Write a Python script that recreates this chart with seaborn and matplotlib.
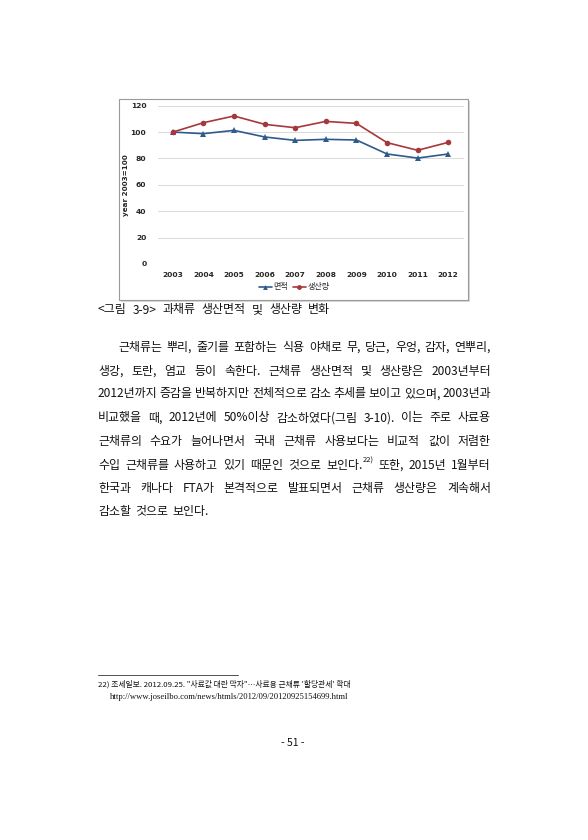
import matplotlib
matplotlib.use('Agg')
import pandas as pd
import matplotlib.pyplot as plt
import seaborn as sns
from matplotlib.patches import Rectangle
from matplotlib.lines import Line2D

# 데이터 (2003=100)
years = [2003, 2004, 2005, 2006, 2007, 2008, 2009, 2010, 2011, 2012]
area = [100, 98.8, 101.3, 96.3, 93.7, 94.5, 94.0, 83.4, 80.3, 83.4]
output = [100, 107.1, 112.2, 105.9, 103.3, 108.1, 106.6, 92.0, 86.2, 92.2]
series_names = ['면적', '생산량']
y_ticks = [0, 20, 40, 60, 80, 100, 120]
y_label = 'year 2003=100'

caption = '<그림 3-9> 과채류 생산면적 및 생산량 변화'
para_lines = [
    '근채류는 뿌리, 줄기를 포함하는 식용 야채로 무, 당근, 우엉, 감자, 연뿌리,',
    '생강, 토란, 염교 등이 속한다. 근채류 생산면적 및 생산량은 2003년부터',
    '2012년까지 증감을 반복하지만 전체적으로 감소 추세를 보이고 있으며, 2003년과',
    '비교했을 때, 2012년에 50%이상 감소하였다(그림 3-10). 이는 주로 사료용',
    '근채류의 수요가 늘어나면서 국내 근채류 사용보다는 비교적 값이 저렴한',
    '수입 근채류를 사용하고 있기 때문인 것으로 보인다.^22) 또한, 2015년 1월부터',
    '한국과 캐나다 FTA가 본격적으로 발표되면서 근채류 생산량은 계속해서',
    '감소할 것으로 보인다.',
]
footnotes = [
    '22) 조세일보. 2012.09.25. "사료값 대란 막자"…사료용 근채류 \'할당관세\' 확대',
    'http://www.joseilbo.com/news/htmls/2012/09/20120925154699.html',
]
page_no = '- 51 -'

sns.set_style('white')
plt.rcParams['font.family'] = ['Noto Sans CJK KR', 'DejaVu Sans']

W, H = 588, 840
fig = plt.figure(figsize=(5.88, 8.4), dpi=100)


def fx(px):
    return px / W


def fy(py):
    return 1 - py / H


# 차트 테두리 (그림자 포함)
fig.patches.append(Rectangle((fx(121), fy(302)), 349 / W, 201 / H, transform=fig.transFigure,
                             facecolor='#d8d8d8', edgecolor='none', zorder=-2))
fig.patches.append(Rectangle((fx(119), fy(300)), 349 / W, 201 / H, transform=fig.transFigure,
                             facecolor='white', edgecolor='#9a9a9a', linewidth=0.8, zorder=-1))

blue = '#2f5a8c'
red = '#a6383c'

ax = fig.add_axes([157.5 / W, fy(264), 306 / W, 158.3 / H])
ax.patch.set_alpha(0)
df = pd.DataFrame({'연도': years * 2,
                   '값': area + output,
                   '구분': [series_names[0]] * len(years) + [series_names[1]] * len(years)})
sns.lineplot(data=df, x='연도', y='값', hue='구분', style='구분',
             markers={'면적': '^', '생산량': 'o'}, dashes=False,
             palette={'면적': blue, '생산량': red},
             markersize=4, markeredgewidth=0, linewidth=1.2, legend=False, ax=ax)

ax.set_xlim(years[0] - 0.5, years[-1] + 0.5)
ax.set_ylim(0, 120)
ax.set_xticks(years)
ax.set_xticklabels([str(y) for y in years], fontsize=5.4, fontweight='bold', family='DejaVu Sans')
ax.set_yticks(y_ticks)
ax.set_yticklabels([str(v) for v in y_ticks], fontsize=5.4, fontweight='bold', family='DejaVu Sans')
ax.tick_params(length=0, pad=6)
ax.tick_params(axis='y', pad=8)
ax.grid(axis='y', color='#d9d9d9', linewidth=0.7)
ax.set_axisbelow(True)
for s in ax.spines.values():
    s.set_visible(False)
ax.set_xlabel('')
ax.set_ylabel(y_label, fontsize=5.2, fontweight='bold', family='DejaVu Sans', labelpad=1)

handles = [Line2D([], [], color=blue, marker='^', markersize=3.5, markeredgewidth=0, lw=1.2),
           Line2D([], [], color=red, marker='o', markersize=3.5, markeredgewidth=0, lw=1.2)]
fig.legend(handles, series_names, loc='center', bbox_to_anchor=(fx(294), fy(287)), ncol=2,
           frameon=False, fontsize=5.8, handlelength=1.6, handletextpad=0.2, columnspacing=0.6)

# 본문 텍스트
body_size = 8.6
renderer = fig.canvas.get_renderer()


def place_line(text, y, x0, x1, justify=True, size=body_size):
    items = []
    for w in text.split(' '):
        main, sup = (w.split('^') + [''])[:2]
        t = fig.text(0, fy(y), main, fontsize=size, va='center', color='#111111')
        s = None
        if sup:
            s = fig.text(0, fy(y - 4), sup, fontsize=5.5, va='center', color='#111111')
        wd = t.get_window_extent(renderer).width
        sw = s.get_window_extent(renderer).width if s else 0
        items.append((t, s, wd, sw))
    total = sum(i[2] + i[3] for i in items)
    gap = 4
    if justify and len(items) > 1:
        gap = max((x1 - x0 - total) / (len(items) - 1), 1.5)
    x = x0
    for t, s, wd, sw in items:
        t.set_x(fx(x))
        if s:
            s.set_x(fx(x + wd + 0.5))
        x += wd + sw + gap


place_line(caption, 310, 98, 330)

line_y = [347, 371, 394, 418, 441, 465, 488, 511]
for i, (txt, y) in enumerate(zip(para_lines, line_y)):
    x0 = 118 if i == 0 else 98
    place_line(txt, y, x0, 491, justify=(i < len(para_lines) - 1))

# 각주
fig.add_artist(Line2D([fx(98), fx(238)], [fy(675), fy(675)], color='#333333', lw=0.6))
fig.text(fx(98), fy(684), footnotes[0], fontsize=5.6, va='center', color='#111111')
fig.text(fx(110), fy(697), footnotes[1], fontsize=6.2, va='center', color='#111111',
         family='Liberation Serif')
fig.text(fx(293), fy(743), page_no, fontsize=7.5, ha='center', va='center', color='#111111')

fig.savefig('out.png', dpi=100)
